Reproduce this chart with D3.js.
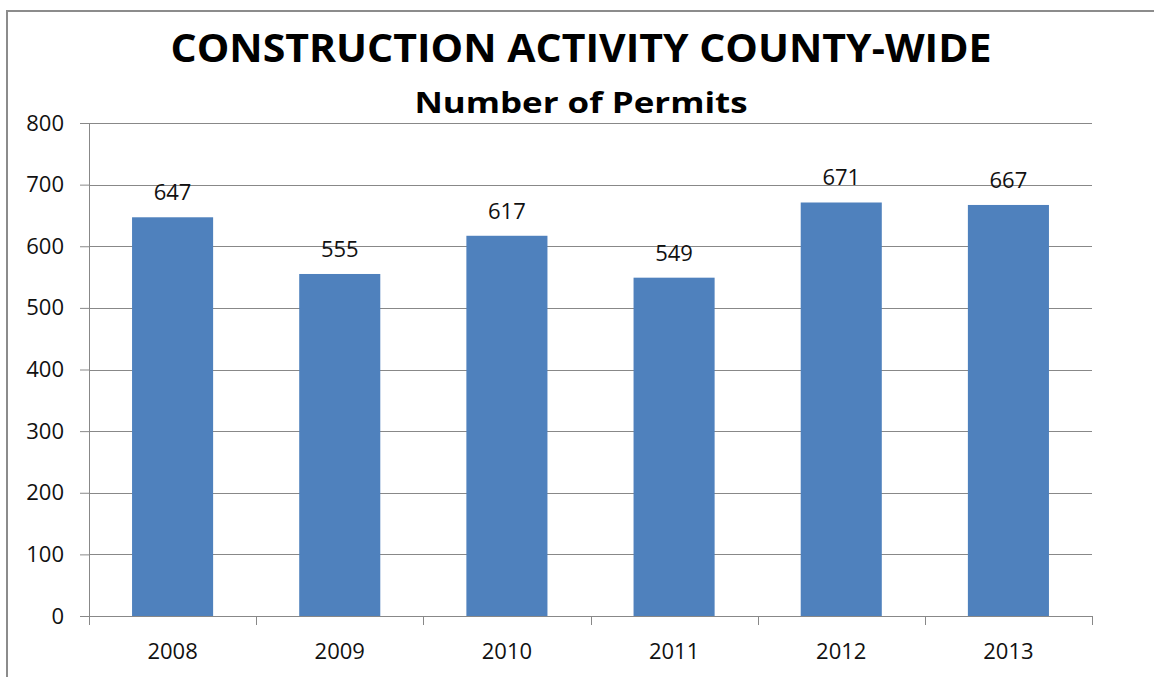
<!DOCTYPE html>
<html>
<head>
<meta charset="utf-8">
<script src="https://cdn.jsdelivr.net/npm/d3@7"></script>
<style>
  body { margin: 0; background: #fff; }
  text { font-family: "Open Sans", "Liberation Sans", sans-serif; }
</style>
</head>
<body>
<div id="chart"></div>
<script>
// chart data
const years = ['2008', '2009', '2010', '2011', '2012', '2013'];
const permits = [647, 555, 617, 549, 671, 667];
const yTicks = [0, 100, 200, 300, 400, 500, 600, 700, 800];

const width = 1154, height = 677;
const margin = { top: 123, right: 62, bottom: 61, left: 89 };
const chartWidth = width - margin.left - margin.right;
const chartHeight = height - margin.top - margin.bottom;

const svg = d3.select('#chart').append('svg')
  .attr('width', width)
  .attr('height', height);

// outer frame
svg.append('rect')
  .attr('x', 7).attr('y', 11)
  .attr('width', width + 20).attr('height', height + 20)
  .attr('fill', 'none')
  .attr('stroke', '#8c8c8c')
  .attr('stroke-width', 2);

svg.append('text')
  .attr('x', 581).attr('y', 62)
  .attr('text-anchor', 'middle')
  .attr('font-size', 40)
  .attr('font-weight', 'bold')
  .attr('textLength', 821)
  .attr('lengthAdjust', 'spacingAndGlyphs')
  .text('CONSTRUCTION ACTIVITY COUNTY-WIDE');

svg.append('text')
  .attr('x', 581).attr('y', 113)
  .attr('text-anchor', 'middle')
  .attr('font-size', 29)
  .attr('font-weight', 'bold')
  .attr('textLength', 333)
  .attr('lengthAdjust', 'spacingAndGlyphs')
  .text('Number of Permits');

const g = svg.append('g')
  .attr('transform', `translate(${margin.left},${margin.top})`);

const x = d3.scaleBand()
  .domain(years)
  .range([0, chartWidth])
  .paddingInner(0.515)
  .paddingOuter(0.2575);

const y = d3.scaleLinear()
  .domain([0, 800])
  .range([chartHeight, 0]);

// gridlines
g.append('g')
  .selectAll('line')
  .data(yTicks.filter(d => d > 0))
  .join('line')
  .attr('x1', 0).attr('x2', chartWidth)
  .attr('y1', d => Math.round(y(d)) + 0.5)
  .attr('y2', d => Math.round(y(d)) + 0.5)
  .attr('stroke', '#888')
  .attr('stroke-width', 1);

// bars
g.selectAll('.bar')
  .data(permits)
  .join('rect')
  .attr('class', 'bar')
  .attr('x', (d, i) => x(years[i]))
  .attr('y', d => y(d))
  .attr('width', x.bandwidth())
  .attr('height', d => chartHeight - y(d))
  .attr('fill', '#4f81bd');

// value labels
g.selectAll('.val')
  .data(permits)
  .join('text')
  .attr('class', 'val')
  .attr('x', (d, i) => x(years[i]) + x.bandwidth() / 2)
  .attr('y', d => y(d) - 17)
  .attr('text-anchor', 'middle')
  .attr('font-size', 22)
  .attr('fill', '#111')
  .text(d => d);

// y axis
const yAxis = g.append('g')
  .call(d3.axisLeft(y).tickValues(yTicks).tickSize(9).tickPadding(16));
yAxis.select('.domain').attr('stroke', '#888').attr('d', `M0.5,0V${chartHeight}`);
yAxis.selectAll('.tick line').attr('stroke', '#888');
yAxis.selectAll('.tick text')
  .attr('font-size', 22)
  .attr('fill', '#111')
  .attr('font-family', '"Open Sans", "Liberation Sans", sans-serif');

// x axis with ticks on category boundaries
const xAxis = g.append('g')
  .attr('transform', `translate(0,${chartHeight})`);
xAxis.append('line')
  .attr('x1', 0).attr('x2', chartWidth)
  .attr('y1', 0.5).attr('y2', 0.5)
  .attr('stroke', '#888');
const step = x.step();
xAxis.selectAll('.xtick')
  .data(d3.range(years.length + 1))
  .join('line')
  .attr('class', 'xtick')
  .attr('x1', i => Math.round(i * step) + 0.5)
  .attr('x2', i => Math.round(i * step) + 0.5)
  .attr('y1', 0).attr('y2', 9)
  .attr('stroke', '#888');
xAxis.selectAll('.xlab')
  .data(years)
  .join('text')
  .attr('class', 'xlab')
  .attr('x', d => x(d) + x.bandwidth() / 2)
  .attr('y', 43)
  .attr('text-anchor', 'middle')
  .attr('font-size', 22)
  .attr('fill', '#111')
  .text(d => d);
</script>
</body>
</html>
